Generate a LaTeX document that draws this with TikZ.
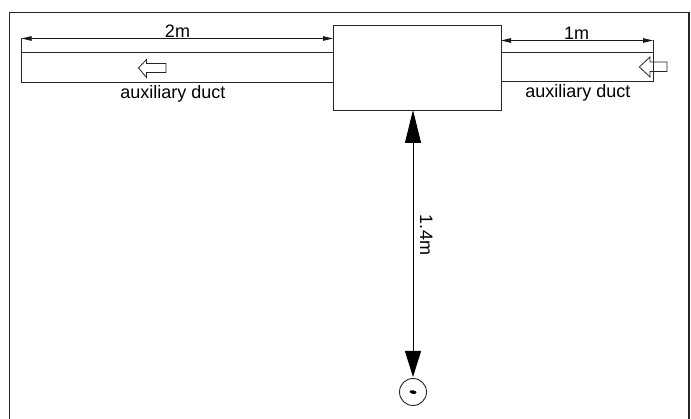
\documentclass[tikz,border=0pt]{standalone}
\usepackage{fontspec}
\setmainfont{Liberation Sans}
\usetikzlibrary{arrows.meta}
\tikzset{
  ln/.style={draw=black!85,line width=0.9pt},
  lbl/.style={font=\fontsize{18}{20}\selectfont,inner sep=0pt,text=black,anchor=base},
  dim/.style={line width=0.9pt,draw=black!90,{Triangle[length=10pt,width=4.5pt]}-{Triangle[length=10pt,width=4.5pt]}},
  bigdim/.style={line width=0.9pt,draw=black,{Triangle[length=33pt,width=16pt]}-{Triangle[length=26pt,width=16pt]}},
  hollow/.style={draw=black!85,line width=0.8pt,fill=none,line join=miter}
}
\begin{document}
\begin{tikzpicture}[x=1pt,y=-1pt]
\useasboundingbox (0,0) rectangle (691,419);
\fill[white] (0,0) rectangle (691,419);
% frame
\draw[line width=1.3pt,draw=black!85] (9.5,425) -- (9.5,12.3) -- (689,12.3) -- (689,425);
% central box
\node[ln,rectangle,minimum width=168pt,minimum height=85pt,inner sep=0,outer sep=0,anchor=north west] (box) at (333,25) {};
% left duct
\node[ln,rectangle,minimum width=311.5pt,minimum height=30pt,inner sep=0,outer sep=0,anchor=north west] (ductL) at (21.5,52) {};
% right duct
\node[ln,rectangle,minimum width=152pt,minimum height=29pt,inner sep=0,outer sep=0,anchor=north west] (ductR) at (501,52.5) {};
% dimension coordinates
\coordinate (dLa) at (21.5,38.5);
\coordinate (dLb) at (333,38.5);
\coordinate (dRa) at (501,40.5);
\coordinate (dRb) at (653,40.5);
\draw[dim] (dLa) -- (dLb);
\draw[dim] (dRa) -- (dRb);
\draw[ln] (ductL.north west) -- (dLa);
\draw[ln] (ductR.north east) -- (dRb);
% labels
\node[lbl] (t2m) at (177.5,38) {2m};
\node[lbl] (t1m) at (576.5,39.5) {1m};
\node[lbl] (auxL) at (173,99) {auxiliary duct};
\node[lbl] (auxR) at (578,98) {auxiliary duct};
\node[lbl,rotate=-90,anchor=base] (t14) at (420,235) {1.4m};
% flow arrows
\draw[hollow] (138.5,68) -- (146.5,59.5) -- (146.5,63.5) -- (166,63.5) -- (166,72.5) -- (146.5,72.5) -- (146.5,77.5) -- cycle;
\draw[hollow] (639.3,67) -- (650,57) -- (650,62) -- (667,62) -- (667,71.5) -- (650,71.5) -- (650,77) -- cycle;
% observer
\node[draw=black!85,line width=0.9pt,circle,minimum size=27pt,inner sep=0,outer sep=0] (obs) at (413,392) {};
\fill[black,rotate around={-10:(obs.center)}] (obs.center) ellipse (3.5pt and 1.8pt);
% vertical dimension
\coordinate (vt) at (box.south -| obs.center);
\coordinate (vb) at (413,377);
\draw[bigdim] (vt) -- (vb);
\end{tikzpicture}
\end{document}
